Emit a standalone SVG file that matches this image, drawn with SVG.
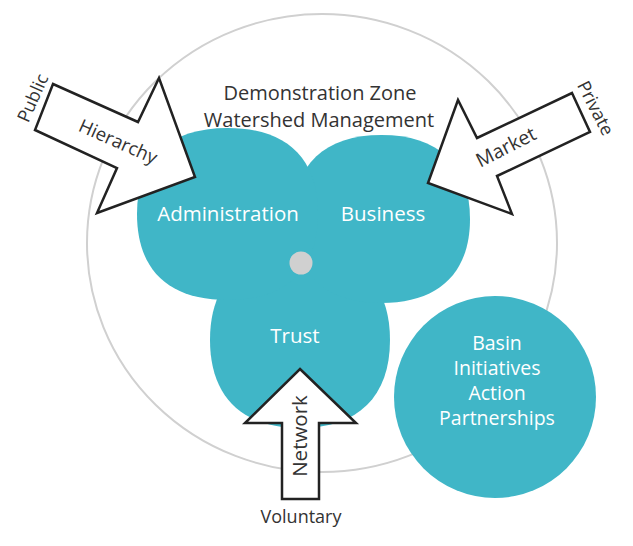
<svg xmlns="http://www.w3.org/2000/svg" width="633" height="546" viewBox="0 0 633 546">
<style>
.lobe{fill:#40b6c7}
.lbl{font-family:"Open Sans","Noto Sans","Liberation Sans",sans-serif;fill:#ffffff;text-anchor:middle}
.dark{font-family:"Open Sans","Noto Sans","Liberation Sans",sans-serif;fill:#333333;text-anchor:middle}
.arrow{fill:#ffffff;stroke:#222222;stroke-width:2.5;stroke-linejoin:miter}
</style>
<rect width="633" height="546" fill="#ffffff"/>
<g id="zone">
<ellipse cx="322" cy="243" rx="235" ry="229" fill="none" stroke="#d0d0d0" stroke-width="2"/>
</g>
<g id="trust">
<path class="lobe" d="M210,340 C210,283.8 241.5,252 300,252 C358.5,252 390,283.8 390,340 C390,396.2 358.5,428 300,428 C241.5,428 210,396.2 210,340Z"/>
<text class="lbl" x="295" y="343" font-size="20.5">Trust</text>
</g>
<g id="business">
<path class="lobe" d="M293,219 C293,164.4 325,135 381.5,135 C438,135 470,164.4 470,219 C470,273.6 438,303 381.5,303 C325,303 293,273.6 293,219Z"/>
<text class="lbl" x="383" y="221" font-size="20.5">Business</text>
</g>
<g id="administration">
<path class="lobe" d="M137,214 C137,158.1 168.5,128 227.5,128 C286.5,128 318,158.1 318,214 C318,269.9 286.5,300 227.5,300 C168.5,300 137,269.9 137,214Z"/>
<text class="lbl" x="228" y="221" font-size="20.5">Administration</text>
</g>
<g id="center">
<circle cx="301" cy="263" r="11.5" fill="#d0d0d0"/>
</g>
<g id="title">
<text class="dark" x="320" y="100" font-size="20">Demonstration Zone</text>
<text class="dark" x="319" y="126.5" font-size="20">Watershed Management</text>
</g>
<g id="basin">
<circle cx="495" cy="397" r="101" fill="#40b6c7"/>
<text class="lbl" font-size="19.5"><tspan x="497" y="350">Basin</tspan><tspan x="497" y="375">Initiatives</tspan><tspan x="497" y="400">Action</tspan><tspan x="497" y="425">Partnerships</tspan></text>
</g>
<g id="connectors">
<g id="hierarchy-arrow">
<polygon class="arrow" points="53,84 138,122 159,78 195,177 97,213 117,168 35,130"/>
<text class="dark" font-size="18.5" transform="translate(115.5,147.5) rotate(24)" x="0" y="0">Hierarchy</text>
<text class="dark" font-size="18" transform="translate(38.5,100.5) rotate(-66)" x="0" y="0">Public</text>
</g>
<g id="market-arrow">
<polygon class="arrow" points="572,93 590,132 497,176 512,214 428,183 458,100 477,138"/>
<text class="dark" font-size="19.5" transform="translate(509,153) rotate(-27)" x="0" y="0">Market</text>
<text class="dark" font-size="18" transform="translate(590,111) rotate(63)" x="0" y="0">Private</text>
</g>
<g id="network-arrow">
<polygon class="arrow" points="300,369 356,423 319,423 319,499 282,499 282,423 245,423"/>
<text class="dark" font-size="20.5" transform="translate(307,436) rotate(-90)" x="0" y="0">Network</text>
<text class="dark" font-size="18" x="301" y="523">Voluntary</text>
</g>
</g>
</svg>
